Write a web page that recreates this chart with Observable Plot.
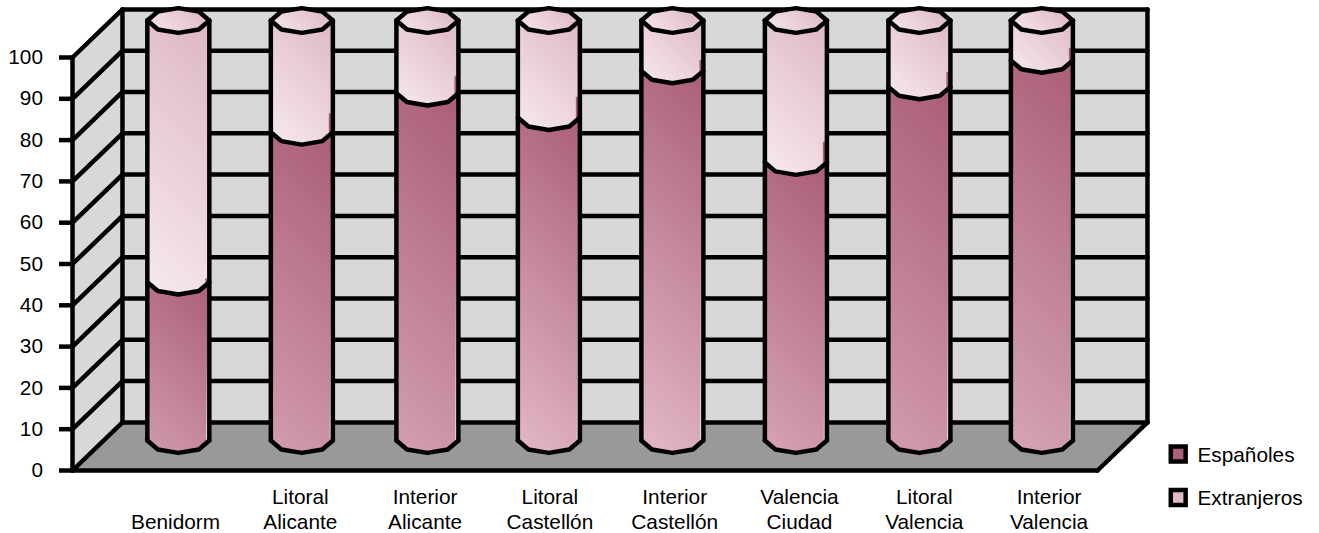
<!DOCTYPE html>
<html>
<head>
<meta charset="utf-8">
<script src="https://cdn.jsdelivr.net/npm/d3@7"></script>
<script src="https://cdn.jsdelivr.net/npm/@observablehq/plot@0.6"></script>
<style>
html,body{margin:0;padding:0;background:#fff}
svg{display:block;max-width:none}
</style>
</head>
<body>
<div id="chart"></div>
<script>
const categories = ["Benidorm","Litoral\nAlicante","Interior\nAlicante","Litoral\nCastellón","Interior\nCastellón","Valencia\nCiudad","Litoral\nValencia","Interior\nValencia"];
const espanoles  = [37.7, 73.4, 82.7, 76.9, 88.0, 66.2, 84.2, 90.5];
const extranjeros= [62.3, 26.6, 17.3, 23.1, 12.0, 33.8, 15.8,  9.5];
const yTicks = [0,10,20,30,40,50,60,70,80,90,100];
const seriesNames = ["Españoles","Extranjeros"];

// colour table (bottom-left stop of the Españoles gradient, per cylinder)
const darkLow = ["#d09aad","#d29cb0","#d39fb2","#e3b8c7","#e3b9c8","#d6a3b5","#d29cb0","#d6a5b7"];
const darkHigh = "#a95c75", lightLow = "#f7e9ef", lightHigh = "#dcb4c3", lineW = 4.5;

// layout tweaks per cylinder, in scale units
const cylNudge = [0, 0, 0.016, 0, 0, 0, 0, -0.008];
const sliver   = [0.9, 4.6, 4.2, 5.0, 2.6, 5.0, 3.6, 3.0];

// 3-D projection, in scale units
const slots = 8, depthX = 0.39, depthY = 11.65;
const cylStart = 0.826, cylStep = 0.964, rx = 0.242;
const cylLift = 7.26, cylStretch = 1.017, capH = 3.0;
const profile = [[-1,0],[-0.66,0.72],[0,1],[0.66,0.72],[1,0]];
const cx = k => cylStart + k * cylStep + cylNudge[k];
const cy = v => cylLift + v * cylStretch;
const arcFront = (k, v) => profile.map(([a,b]) => ({x: cx(k) + a*rx, y: cy(v) - b*capH}));
const arcBack  = (k, v) => profile.map(([a,b]) => ({x: cx(k) + a*rx, y: cy(v) + b*capH})).reverse();

const poly = (pts, o) => Plot.line(pts, {x:"x", y:"y", curve:"linear-closed", stroke:"none", ...o});
const path = (pts) => Plot.line(pts, {x:"x", y:"y", curve:"linear", stroke:"black", strokeWidth:lineW, strokeLinejoin:"round", strokeLinecap:"round"});
const seg = (x1,y1,x2,y2) => path([{x:x1,y:y1},{x:x2,y:y2}]);

const walls = [
  poly([{x:0,y:0},{x:depthX,y:depthY},{x:depthX,y:100+depthY},{x:0,y:100}], {fill:"#d8d8d8"}),
  poly([{x:depthX,y:depthY},{x:slots+depthX,y:depthY},{x:slots+depthX,y:100+depthY},{x:depthX,y:100+depthY}], {fill:"#d8d8d8"}),
  poly([{x:0,y:0},{x:slots,y:0},{x:slots+depthX,y:depthY},{x:depthX,y:depthY}], {fill:"#999999"})
];
const grid = yTicks.flatMap(v => [
  seg(0,v,depthX,v+depthY),
  seg(depthX,v+depthY,slots+depthX,v+depthY)
]);
const frame = [
  seg(0,0,0,100), seg(depthX,depthY,depthX,100+depthY),
  seg(slots+depthX,depthY,slots+depthX,100+depthY),
  seg(0,0,slots,0), seg(slots,0,slots+depthX,depthY)
];

function gradients(index, {x, y}) {
  const defs = d3.create("svg:defs");
  const add = (id, k, v0, v1, low, high, extra=0) => {
    const x0 = x(cx(k)-rx), x1 = x(cx(k)+rx), yb = y(cy(v0)-extra), yt = y(cy(v1)+extra);
    const t = ((x1-x0)+(yb-yt))/2;
    const g = defs.append("linearGradient").attr("id",id).attr("gradientUnits","userSpaceOnUse")
      .attr("x1",x0).attr("y1",yb).attr("x2",x0+t).attr("y2",yb-t);
    g.append("stop").attr("offset",0).attr("stop-color",low);
    g.append("stop").attr("offset",1).attr("stop-color",high);
  };
  categories.forEach((_,k) => {
    add(`d${k}`,k,0,espanoles[k],darkLow[k],darkHigh,capH);
    add(`l${k}`,k,espanoles[k],100,lightLow,lightHigh,capH);
    add(`c${k}`,k,100,100,lightLow,lightHigh,capH);
  });
  return defs.node();
}

const cylinders = categories.flatMap((_,k) => {
  const v = espanoles[k], top = v + extranjeros[k];
  const bottom = arcFront(k,0), level = arcFront(k,v), upper = arcFront(k,top), back = arcBack(k,top);
  const L = cx(k)-rx, R = cx(k)+rx;
  const rBottom = cx(k)+0.90*rx, rTop = cx(k)+0.95*rx;
  return [
    poly([...bottom, ...[...upper].reverse()], {fill:"#f0ecee"}),
    poly([...bottom.slice(0,4), {x:rBottom,y:cy(0)}, {x:rTop,y:cy(v)}, ...[...level].reverse().slice(1)], {fill:`url(#d${k})`}),
    poly([...level.slice(0,4), {x:rTop,y:cy(v)}, {x:rTop,y:cy(top)}, ...[...upper].reverse().slice(1)], {fill:`url(#l${k})`}),
    poly([{x:cx(k)+0.87*rx,y:cy(v)},{x:rTop,y:cy(v)},{x:rTop,y:cy(v)+sliver[k]},{x:cx(k)+0.87*rx,y:cy(v)+sliver[k]}], {fill:darkHigh}),
    poly([...upper, ...back.slice(1,-1)], {fill:`url(#c${k})`}),
    path([{x:L,y:cy(0)},{x:L,y:cy(top)}]),
    path([{x:R,y:cy(0)},{x:R,y:cy(top)}]),
    path(bottom), path(level), path(upper), path(back)
  ];
});

const labelStart = 0.804, labelStep = 0.974;
const legendY = [4, -6.55], legendSwatchX = 8.63, legendTextX = 8.78;
const fontFamily = '"Liberation Sans", Arial, sans-serif', fontSize = 20.8;

const chart = Plot.plot({
  width: 1319, height: 533,
  marginLeft: 72, marginRight: 222, marginTop: 57, marginBottom: 63,
  style: {fontFamily, background:"white", overflow:"visible"},
  x: {domain:[0,slots], axis:null},
  y: {domain:[0,100], axis:null},
  marks: [
    gradients,
    ...walls, ...grid, ...frame,
    ...cylinders,
    Plot.axisY(yTicks, {anchor:"left", label:null, tickSize:13, tickPadding:16.5, strokeWidth:lineW, fontSize, tickFormat:d=>d, fill:"black", stroke:"black"}),
    Plot.text(categories, {x:(d,i)=>labelStart+i*labelStep, frameAnchor:"bottom", dy:58, lineAnchor:"bottom", lineHeight:1.16, fontSize, fill:"black", text:d=>d}),
    Plot.dot(seriesNames, {x:()=>legendSwatchX, y:(d,i)=>legendY[i], symbol:"square", r:8.4, stroke:"black", strokeWidth:lineW, fill:(d,i)=>["#ab5f78","#e0b9c6"][i]}),
    Plot.text(seriesNames, {x:()=>legendTextX, y:(d,i)=>legendY[i], dy:1, textAnchor:"start", fontSize, fill:"black", text:d=>d})
  ],
  color: {type:"identity"}
});
document.getElementById("chart").append(chart);
</script>
</body>
</html>
